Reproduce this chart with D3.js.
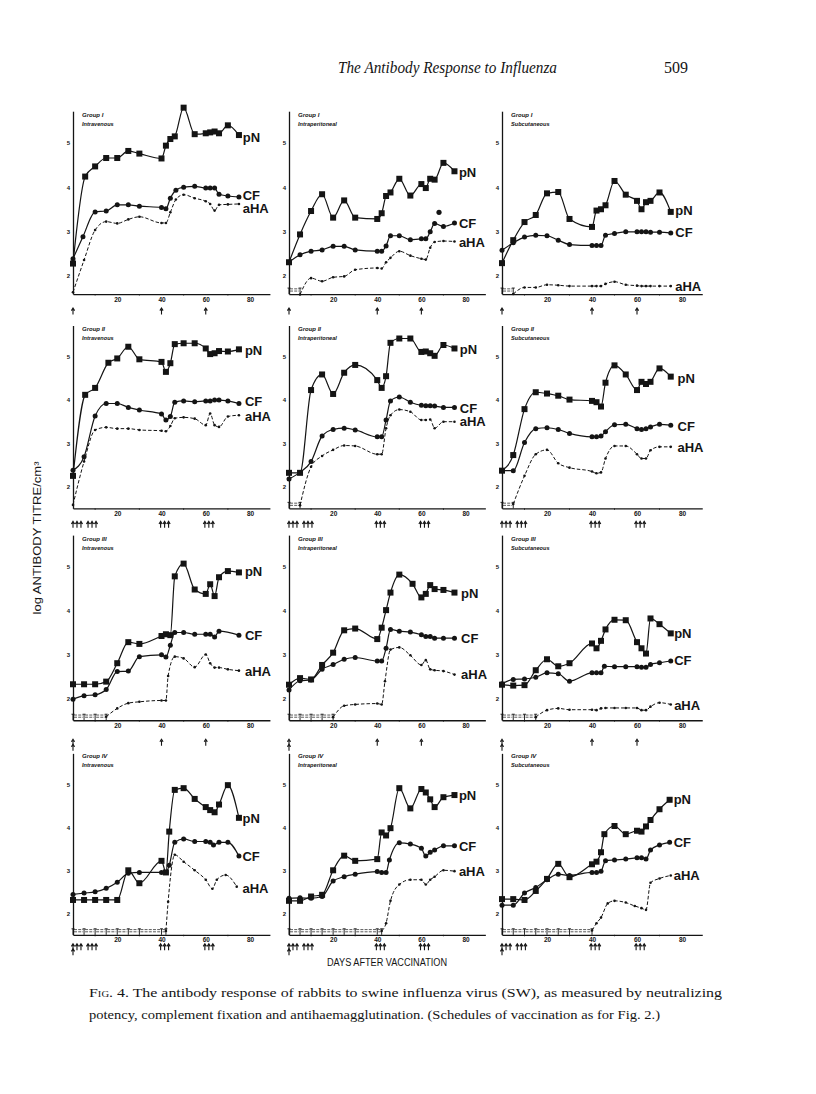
<!DOCTYPE html>
<html><head><meta charset="utf-8">
<script src="https://cdn.jsdelivr.net/npm/d3@7"></script>
<style>body{margin:0;background:#fff}svg{display:block}</style>
</head><body>
<svg id="c" width="816" height="1094"></svg>
<script>
// ---------- DATA (day, log titre) ----------
// Group I
const g1_iv_pN  = [[0,2.27],[5.5,4.24],[10,4.47],[15,4.66],[20,4.66],[25,4.82],[30,4.76],[40,4.65],[42,4.94],[44,5.09],[46,5.15],[50,5.8],[55,5.2],[60,5.22],[62,5.24],[64,5.26],[66,5.22],[70,5.4],[75,5.18]];
const g1_iv_CF  = [[0,2.38],[4.5,2.88],[10,3.44],[15,3.46],[20,3.6],[25,3.6],[30,3.57],[40,3.54],[42,3.51],[44,3.75],[46.5,3.93],[50,4.0],[55,4.02],[60,3.98],[62,3.98],[64,3.98],[66,3.84],[70,3.8],[75,3.78]];
const g1_iv_aHA = [[0,1.62],[5,2.35],[10,3.03],[15,3.22],[20,3.18],[25,3.27],[30,3.33],[40,3.19],[42,3.19],[44,3.43],[46.5,3.72],[50,3.83],[55,3.75],[60,3.68],[62,3.62],[64,3.47],[66,3.6],[70,3.61],[75,3.62]];
const g1_iv_below = [];

const g1_ip_pN  = [[0,2.3],[5,2.93],[10,3.46],[15,3.84],[20,3.31],[25,3.7],[30,3.31],[40,3.28],[42,3.41],[44,3.8],[46,3.88],[50,4.19],[55,3.81],[60,4.07],[62,3.98],[64,4.19],[66,4.17],[70,4.55],[75,4.36]];
const g1_ip_CF  = [[0,2.3],[5,2.47],[10,2.55],[15,2.58],[20,2.66],[25,2.66],[30,2.58],[40,2.55],[42,2.55],[44,2.67],[46,2.9],[50,2.9],[55,2.81],[60,2.83],[62,2.83],[64,2.99],[66,3.18],[70,3.11],[75,3.19]];
const g1_ip_aHA = [[5,1.57],[10,1.94],[15,1.87],[20,1.96],[25,1.98],[30,2.13],[40,2.17],[42,2.16],[44,2.3],[46,2.4],[50,2.55],[55,2.45],[60,2.38],[62,2.36],[64,2.63],[66,2.76],[70,2.78],[75,2.77]];
const g1_ip_below = [0,5];
const g1_ip_extra = [[68,3.43]];

const g1_sc_pN  = [[0,2.28],[5,2.8],[10,3.21],[15,3.37],[20,3.86],[25,3.89],[30,3.28],[40,3.1],[42,3.47],[44,3.5],[46,3.59],[50,4.14],[55,3.83],[60,3.69],[62,3.5],[64,3.66],[66,3.69],[70,3.88],[75,3.44]];
const g1_sc_CF  = [[0,2.57],[5,2.74],[10,2.87],[15,2.91],[20,2.9],[25,2.8],[30,2.7],[40,2.68],[42,2.68],[44,2.68],[46,2.91],[50,2.95],[55,2.99],[60,2.99],[62,2.99],[64,2.99],[66,2.98],[70,2.98],[75,2.96]];
const g1_sc_aHA = [[5,1.58],[10,1.73],[15,1.73],[20,1.79],[25,1.78],[30,1.76],[40,1.76],[42,1.76],[44,1.76],[46,1.81],[50,1.86],[55,1.79],[60,1.77],[62,1.76],[64,1.76],[66,1.76],[70,1.76],[75,1.76]];
const g1_sc_below = [0,5];

// Group II
const g2_iv_pN  = [[0,2.25],[5.5,4.12],[10,4.28],[16,4.86],[20,4.96],[25,5.23],[30,4.94],[40,4.88],[42,4.65],[44,4.85],[46,5.29],[50,5.31],[55,5.31],[60,5.19],[62,5.06],[64,5.08],[66,5.13],[70,5.12],[75,5.17]];
const g2_iv_CF  = [[0,2.38],[5,2.69],[10,3.63],[15,3.92],[20,3.92],[25,3.83],[30,3.77],[40,3.68],[42,3.54],[44,3.62],[46,3.95],[50,3.98],[55,3.96],[60,3.98],[62,3.98],[64,4.0],[66,4.0],[70,3.98],[75,3.92]];
const g2_iv_aHA = [[0,1.58],[5,2.58],[10,3.31],[15,3.37],[20,3.34],[25,3.34],[30,3.31],[40,3.29],[42,3.28],[44,3.4],[46,3.58],[50,3.6],[55,3.57],[60,3.42],[62,3.69],[64,3.42],[66,3.38],[70,3.62],[75,3.65]];
const g2_iv_below = [];

const g2_ip_pN  = [[0,2.32],[5,2.32],[10,4.23],[15,4.59],[20,4.14],[25,4.63],[30,4.81],[40,4.46],[42,4.28],[44,4.55],[46,5.32],[50,5.42],[55,5.42],[60,5.11],[62,5.12],[64,5.08],[66,5.02],[70,5.27],[75,5.19]];
const g2_ip_CF  = [[0,2.18],[5,2.33],[10,2.58],[15,3.17],[20,3.32],[25,3.35],[30,3.31],[40,3.15],[42,3.15],[44,3.54],[46,3.98],[50,4.07],[55,3.95],[60,3.88],[62,3.87],[64,3.87],[66,3.86],[70,3.83],[75,3.83]];
const g2_ip_aHA = [[5,1.57],[10,2.46],[15,2.71],[20,2.85],[25,2.95],[30,2.94],[40,2.75],[42,2.75],[44,3.35],[46,3.65],[50,3.78],[55,3.73],[60,3.54],[62,3.54],[64,3.55],[66,3.35],[70,3.5],[75,3.5]];
const g2_ip_below = [0,5];

const g2_sc_pN  = [[0,2.37],[5,2.73],[10,3.79],[15,4.18],[20,4.15],[25,4.1],[30,4.01],[40,3.98],[42,3.95],[44,3.85],[46,4.4],[50,4.8],[55,4.59],[60,4.23],[62,4.42],[64,4.37],[66,4.42],[70,4.73],[75,4.54]];
const g2_sc_CF  = [[0,2.37],[5,2.37],[10,3.02],[15,3.34],[20,3.36],[25,3.32],[30,3.23],[40,3.15],[42,3.15],[44,3.17],[46,3.27],[50,3.43],[55,3.44],[60,3.34],[62,3.32],[64,3.34],[66,3.38],[70,3.44],[75,3.42]];
const g2_sc_aHA = [[5,1.6],[10,2.25],[15,2.75],[20,2.85],[25,2.54],[30,2.44],[40,2.35],[42,2.31],[44,2.33],[46,2.65],[50,2.94],[55,2.94],[60,2.75],[62,2.65],[64,2.65],[66,2.84],[70,2.92],[75,2.92]];
const g2_sc_below = [0,5];

// Group III
const g3_iv_pN  = [[0,2.32],[5,2.32],[10,2.32],[15,2.38],[20,2.8],[25,3.28],[30,3.24],[40,3.42],[42,3.46],[44,3.44],[46,4.78],[50,5.07],[55,4.48],[60,4.38],[62,4.6],[64,4.33],[66,4.76],[70,4.9],[75,4.87]];
const g3_iv_CF  = [[0,1.98],[5,2.06],[10,2.08],[15,2.2],[20,2.61],[25,2.62],[30,2.95],[40,2.99],[42,2.94],[44,3.21],[46,3.5],[50,3.5],[55,3.46],[60,3.46],[62,3.46],[64,3.4],[66,3.53],[75,3.44]];
const g3_iv_aHA = [[15,1.58],[20,1.77],[25,1.89],[30,1.92],[40,1.95],[42,1.95],[43,2.51],[46,2.95],[50,2.91],[55,2.71],[60,3.0],[62,2.8],[64,2.7],[66,2.7],[70,2.66],[75,2.63]];
const g3_iv_below = [0,5,10,15];

const g3_ip_pN  = [[0,2.31],[5,2.46],[10,2.43],[15,2.76],[20,3.04],[25,3.55],[30,3.59],[40,3.35],[42,3.61],[44,4.01],[46,4.41],[50,4.82],[56,4.61],[60,4.3],[62,4.38],[64,4.58],[66,4.49],[70,4.47],[75,4.41]];
const g3_ip_CF  = [[0,2.19],[5,2.4],[10,2.42],[15,2.66],[20,2.77],[25,2.89],[30,2.93],[40,2.85],[42,2.85],[44,3.14],[46,3.57],[50,3.53],[55,3.51],[60,3.45],[62,3.41],[64,3.41],[66,3.37],[70,3.37],[75,3.37]];
const g3_ip_aHA = [[20,1.57],[25,1.83],[30,1.86],[40,1.88],[42,1.86],[43.5,2.39],[46,3.11],[50,3.16],[55,2.98],[60,2.76],[62,2.87],[64,2.66],[66,2.64],[70,2.62],[75,2.54]];
const g3_ip_below = [0,5,10,15,20];

const g3_sc_pN  = [[0,2.31],[5,2.29],[10,2.3],[15,2.64],[20,2.89],[25,2.73],[30,2.8],[40,3.25],[42,3.14],[44,3.31],[46,3.57],[50,3.79],[55,3.78],[60,3.28],[62,3.14],[64,3.02],[66,3.82],[70,3.69],[75,3.48]];
const g3_sc_CF  = [[0,2.33],[5,2.43],[10,2.44],[15,2.48],[20,2.58],[25,2.56],[30,2.39],[40,2.58],[42,2.58],[44,2.58],[45.5,2.73],[50,2.72],[55,2.72],[60,2.72],[62,2.71],[64,2.71],[66,2.77],[70,2.81],[75,2.85]];
const g3_sc_aHA = [[15,1.57],[20,1.73],[25,1.77],[30,1.74],[40,1.74],[42,1.73],[44,1.77],[46,1.78],[50,1.78],[55,1.78],[60,1.78],[62,1.73],[64,1.73],[66,1.81],[70,1.9],[75,1.86]];
const g3_sc_below = [0,5,10,15];

// Group IV
const g4_iv_pN  = [[0,2.31],[5,2.31],[10,2.31],[15,2.31],[20,2.31],[25,3.0],[30,2.7],[40,3.22],[42,2.95],[43.5,3.9],[46,4.87],[50,4.91],[55,4.66],[60,4.47],[62,4.4],[64,4.35],[66,4.53],[70,4.98],[75,4.22]];
const g4_iv_CF  = [[0,2.44],[5,2.47],[10,2.5],[15,2.58],[20,2.72],[25,2.93],[30,2.95],[40,2.95],[42,2.95],[43.5,3.12],[46,3.65],[50,3.73],[55,3.67],[60,3.67],[62,3.65],[63.5,3.59],[66,3.65],[70,3.65],[75,3.33]];
const g4_iv_aHA = [[42,1.59],[43,2.27],[46,3.36],[50,3.2],[55,3.0],[60,2.78],[63,2.57],[65,2.78],[69,2.89],[74,2.62]];
const g4_iv_below = [0,5,10,15,20,25,30,40,42];

const g4_ip_pN  = [[0,2.29],[5,2.29],[10,2.39],[15,2.43],[20,3.0],[25,3.34],[30,3.22],[40,3.26],[42,3.88],[44,3.81],[46,3.98],[50,4.91],[55,4.44],[60,4.89],[62,4.81],[64,4.65],[66,4.47],[70,4.7],[75,4.75]];
const g4_ip_CF  = [[0,2.35],[5,2.36],[10,2.35],[15,2.39],[20,2.75],[25,2.85],[30,2.91],[40,2.97],[42,2.95],[44,2.95],[45.5,3.24],[50,3.64],[55,3.61],[60,3.51],[62,3.33],[64,3.42],[66,3.47],[70,3.57],[75,3.57]];
const g4_ip_aHA = [[42,1.59],[44,1.77],[46,2.29],[50,2.67],[55,2.78],[60,2.78],[62,2.67],[64,2.78],[66,2.85],[70,3.0],[75,2.98]];
const g4_ip_below = [0,5,10,15,20,25,30,40,42];

const g4_sc_pN  = [[0,2.33],[5,2.33],[10,2.31],[15,2.52],[20,2.8],[25,3.15],[30,2.84],[40,3.14],[42,3.2],[44,3.42],[45.5,3.84],[50,4.03],[55,3.84],[60,3.92],[62,3.9],[64,4.02],[66,4.17],[70,4.42],[74.5,4.64]];
const g4_sc_CF  = [[0,2.19],[5,2.19],[10,2.47],[15,2.6],[20,2.78],[25,2.91],[30,2.88],[40,2.95],[42,2.95],[44,2.98],[46,3.22],[50,3.24],[55,3.26],[60,3.29],[62,3.29],[64,3.26],[66,3.47],[70,3.59],[74.5,3.65]];
const g4_sc_aHA = [[40,1.6],[42,1.77],[44,1.9],[47,2.23],[50,2.29],[55,2.25],[59,2.17],[62,2.12],[64,2.08],[66,2.71],[70,2.81],[75,2.88]];
const g4_sc_below = [0,5,10,15,20,25,30,40];

// vaccination schedules (days of injection)
const scheduleSingle = [0,40,60];
const scheduleTriple = [0,1.8,3.6,6.8,8.6,10.4,39.6,41.4,43.2,59.6,61.4,63.2];

const groupNames = ["Group I","Group II","Group III","Group IV"];
const routeNames = ["Intravenous","Intraperitoneal","Subcutaneous"];
const seriesNames = ["pN","CF","aHA"];
const xTicks = [20,40,60,80];
const yTicks = [2,3,4,5];

// ---------- LAYOUT ----------
const colX0 = [73, 289, 502];
const colPx80 = [177, 176.5, 180];           // pixel width of 80 days
const rowY2 = [275.5, 486.7, 698.3, 913.3];
const rowY5 = [143, 356.7, 566.7, 784.3];
const rowYmin = [1.58, 1.5, 1.5, 1.5];
const yMaxV = 5.72;
const arrowOff = [14, 13, 19, 9];
// label anchors: [day, pN value, CF value, aHA value]
const labelPos = [
  [76.7,5.13,3.81,3.51],[77,4.34,3.18,2.76],[77,3.47,2.98,1.75],
  [77.7,5.14,3.96,3.62],[77.4,5.17,3.81,3.5],[78,4.5,3.4,2.92],
  [77.7,4.89,3.44,2.62],[78,4.4,3.37,2.54],[76.5,3.48,2.87,1.85],
  [76.6,4.21,3.32,2.58],[77,4.75,3.55,2.97],[76.3,4.64,3.65,2.89]
];

const panelData = [
  [g1_iv_pN,g1_iv_CF,g1_iv_aHA,g1_iv_below],[g1_ip_pN,g1_ip_CF,g1_ip_aHA,g1_ip_below],[g1_sc_pN,g1_sc_CF,g1_sc_aHA,g1_sc_below],
  [g2_iv_pN,g2_iv_CF,g2_iv_aHA,g2_iv_below],[g2_ip_pN,g2_ip_CF,g2_ip_aHA,g2_ip_below],[g2_sc_pN,g2_sc_CF,g2_sc_aHA,g2_sc_below],
  [g3_iv_pN,g3_iv_CF,g3_iv_aHA,g3_iv_below],[g3_ip_pN,g3_ip_CF,g3_ip_aHA,g3_ip_below],[g3_sc_pN,g3_sc_CF,g3_sc_aHA,g3_sc_below],
  [g4_iv_pN,g4_iv_CF,g4_iv_aHA,g4_iv_below],[g4_ip_pN,g4_ip_CF,g4_ip_aHA,g4_ip_below],[g4_sc_pN,g4_sc_CF,g4_sc_aHA,g4_sc_below]
];

const svg = d3.select("#c");
svg.append("rect").attr("width",816).attr("height",1094).attr("fill","#fff");
const ink = "#141414";
const sans = "'Liberation Sans', Arial, sans-serif";
const serif = "'Liberation Serif', 'Times New Roman', serif";

panelData.forEach((pd, i) => {
  const row = Math.floor(i/3), col = i%3;
  const x = d3.scaleLinear().domain([0,80]).range([colX0[col], colX0[col]+colPx80[col]]);
  const y = d3.scaleLinear().domain([2,5]).range([rowY2[row], rowY5[row]]);
  const ymin = rowYmin[row];
  const g = svg.append("g");

  // axes
  const xa = d3.scaleLinear().domain([0,89]).range([x(0), x(89)]);
  const gx = g.append("g").attr("transform",`translate(0,${y(ymin)})`)
    .call(d3.axisBottom(xa).tickValues(xTicks).tickSize(0).tickSizeOuter(0).tickPadding(3).tickFormat(d3.format("d")));
  gx.select(".domain").attr("stroke",ink).attr("stroke-width",1.3);
  gx.selectAll("text").attr("font-family",sans).attr("font-size",6.5).attr("font-weight","bold").attr("fill",ink);
  g.selectAll(".mt").data([10,30,50,70]).enter().append("line")
    .attr("x1",d=>x(d)).attr("x2",d=>x(d)).attr("y1",y(ymin)).attr("y2",y(ymin)+1.5).attr("stroke",ink).attr("stroke-width",0.8);

  const ya = d3.scaleLinear().domain([ymin,yMaxV]).range([y(ymin), y(yMaxV)]);
  const gy = g.append("g").attr("transform",`translate(${x(0)},0)`)
    .call(d3.axisLeft(ya).tickValues(yTicks).tickSize(0).tickSizeOuter(0).tickPadding(3).tickFormat(d3.format("d")));
  gy.select(".domain").attr("stroke",ink).attr("stroke-width",1.3);
  gy.selectAll("text").attr("font-family",sans).attr("font-size",6).attr("font-weight","bold").attr("fill",ink);

  // group label
  g.append("text").attr("x",x(0)+9).attr("y",rowY5[row]-26).text(groupNames[row])
    .attr("font-family",sans).attr("font-style","italic").attr("font-weight","bold").attr("font-size",6).attr("fill",ink);
  g.append("text").attr("x",x(0)+9).attr("y",rowY5[row]-17).text(routeNames[col])
    .attr("font-family",sans).attr("font-style","italic").attr("font-weight","bold").attr("font-size",5.6).attr("fill",ink);

  // below-detection baselines
  const below = pd[3];
  if (below.length) {
    const yb = y(ymin) - 3;
    for (let k=0;k<below.length-1;k++){
      [0,-2.2].forEach(off=>{
        g.append("line").attr("x1",x(below[k])+1).attr("x2",x(below[k+1])-1)
          .attr("y1",yb+off).attr("y2",yb+off).attr("stroke",ink).attr("stroke-width",0.7)
          .attr("stroke-dasharray","3,1.2");
      });
    }
    g.selectAll(".bt").data(below).enter().append("path")
      .attr("d",d=>`M${x(d)},${y(ymin)}V${y(ymin)-6}M${x(d)-1.5},${y(ymin)-6}H${x(d)+1.5}`)
      .attr("stroke",ink).attr("stroke-width",0.9).attr("fill","none");
  }

  const line = d3.line().x(d=>x(d[0])).y(d=>y(d[1])).curve(d3.curveMonotoneX);
  // aHA dash-dot line
  g.append("path").attr("d",line(pd[2])).attr("fill","none").attr("stroke",ink)
    .attr("stroke-width",1.0).attr("stroke-dasharray","3.5,2");
  g.selectAll(".ah").data(pd[2]).enter().append("circle")
    .attr("cx",d=>x(d[0])).attr("cy",d=>y(d[1])).attr("r",1.3).attr("fill",ink);
  // CF
  g.append("path").attr("d",line(pd[1])).attr("fill","none").attr("stroke",ink).attr("stroke-width",1.2);
  g.selectAll(".cf").data(pd[1]).enter().append("circle")
    .attr("cx",d=>x(d[0])).attr("cy",d=>y(d[1])).attr("r",2.5).attr("fill",ink);
  // pN
  g.append("path").attr("d",line(pd[0])).attr("fill","none").attr("stroke",ink).attr("stroke-width",1.2);
  g.selectAll(".pn").data(pd[0]).enter().append("rect")
    .attr("x",d=>x(d[0])-3).attr("y",d=>y(d[1])-3).attr("width",6).attr("height",6).attr("fill",ink);

  if (i===1) {
    g.selectAll(".ex").data(g1_ip_extra).enter().append("circle")
      .attr("cx",d=>x(d[0])).attr("cy",d=>y(d[1])).attr("r",2.6).attr("fill",ink);
  }

  // series labels
  const lp = labelPos[i];
  seriesNames.forEach((s,k)=>{
    g.append("text").attr("x",x(lp[0])).attr("y",y(lp[k+1])).attr("dy","0.36em").text(s)
      .attr("font-family",sans).attr("font-size",13).attr("font-weight","bold").attr("fill",ink);
  });

  // vaccination arrows
  const sched = (row===1||row===3) ? scheduleTriple : scheduleSingle;
  const a0 = y(ymin) + arrowOff[row];
  const arrowPath = (cx, top) => `M${cx},${top+6.5}V${top+1.5}M${cx-1.6},${top+2.6}L${cx},${top}L${cx+1.6},${top+2.6}`;
  g.selectAll(".ar").data(sched).enter().append("path")
    .attr("d",d=>arrowPath(x(d),a0)).attr("stroke",ink).attr("stroke-width",1.1).attr("fill","none");
  if (row===2||row===3) {
    g.append("path").attr("d",arrowPath(x(0),a0+5)).attr("stroke",ink).attr("stroke-width",1.1).attr("fill","none");
  }
});

// ---------- PAGE TEXT ----------
svg.append("text").attr("x",447.5).attr("y",73).attr("text-anchor","middle")
  .attr("font-family",serif).attr("font-style","italic").attr("font-size",17)
  .attr("textLength",219).attr("lengthAdjust","spacingAndGlyphs").attr("fill",ink)
  .text("The Antibody Response to Influenza");
svg.append("text").attr("x",676).attr("y",73).attr("text-anchor","middle")
  .attr("font-family",serif).attr("font-size",16).attr("fill",ink).text("509");

svg.append("text").attr("transform","translate(41,538) rotate(-90)").attr("text-anchor","middle")
  .attr("font-family",sans).attr("font-size",10).attr("textLength",153).attr("lengthAdjust","spacingAndGlyphs")
  .attr("fill",ink).text("log ANTIBODY TITRE/cm³");

svg.append("text").attr("x",387).attr("y",966).attr("text-anchor","middle")
  .attr("font-family",sans).attr("font-size",10).attr("textLength",120).attr("lengthAdjust","spacingAndGlyphs")
  .attr("fill",ink).text("DAYS AFTER VACCINATION");

const cap1 = svg.append("text").attr("x",89).attr("y",997).attr("font-family",serif).attr("font-size",13.5)
  .attr("textLength",633).attr("lengthAdjust","spacingAndGlyphs").attr("fill",ink);
cap1.append("tspan").attr("font-variant","small-caps").text("Fig. 4.");
cap1.append("tspan").text(" The antibody response of rabbits to swine influenza virus (SW), as measured by neutralizing");
svg.append("text").attr("x",89).attr("y",1019).attr("font-family",serif).attr("font-size",13.5)
  .attr("textLength",571).attr("lengthAdjust","spacingAndGlyphs").attr("fill",ink)
  .text("potency, complement fixation and antihaemagglutination. (Schedules of vaccination as for Fig. 2.)");
</script>
</body></html>
